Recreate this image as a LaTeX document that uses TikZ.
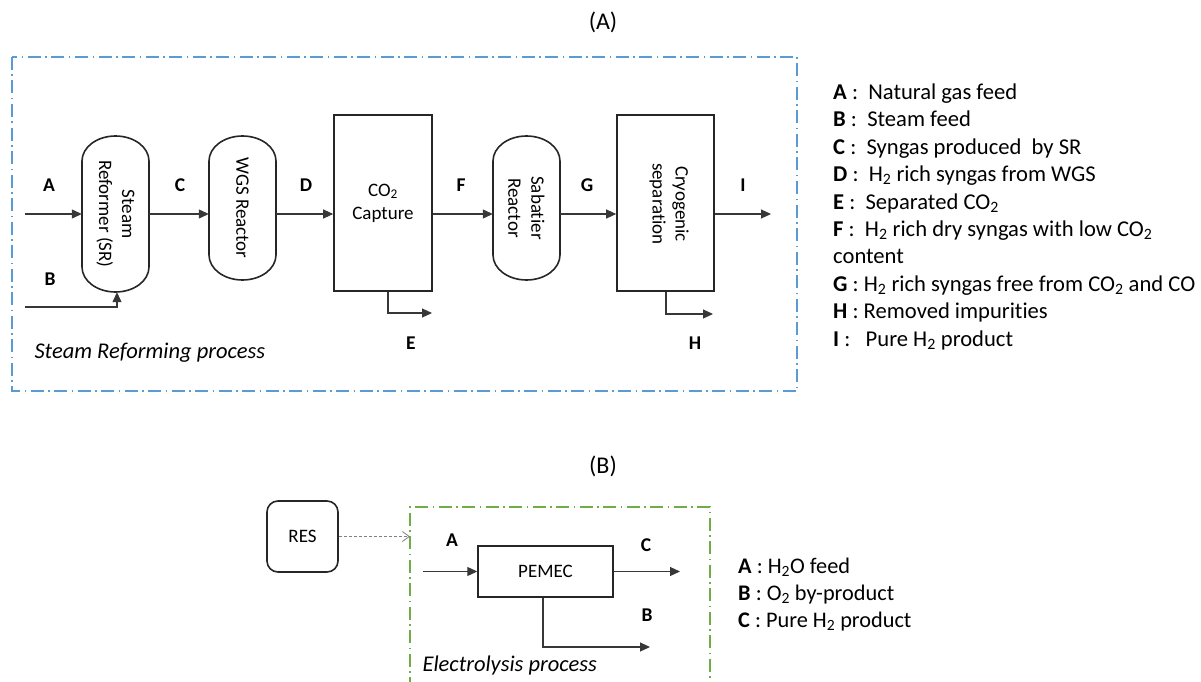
\documentclass[tikz,border=0pt]{standalone}
\usepackage{fontspec}
\setmainfont{Carlito}[Ligatures=CommonOff]
\usetikzlibrary{arrows.meta}
\definecolor{boxblue}{RGB}{91,155,213}
\definecolor{boxgreen}{RGB}{112,173,71}
\definecolor{linegray}{RGB}{55,55,55}
\newcommand\mycap[6]{% name, cx, cy, halfw, halfh, text
  \draw[unitline] ({#2-#4},{#3-#5+25}) arc[start angle=180,end angle=360,x radius=#4,y radius=25]
    -- ({#2+#4},{#3+#5-25}) arc[start angle=0,end angle=180,x radius=#4,y radius=25] -- cycle;
  \node[minimum width={2*#4}, minimum height={2*#5}, inner sep=0pt] (#1) at (#2,#3) {};
  \node[rotate=-90, align=center, font=\fontsize{19}{23}\selectfont] (#1txt) at (#2,#3) {#6};
}
\begin{document}
\begin{tikzpicture}[x=1pt,y=-1pt,
  unitline/.style={draw=black!85, line width=1.6pt},
  unitbox/.style={unitline, rectangle, inner sep=0pt, align=center, font=\fontsize{19}{23}\selectfont},
  flow/.style={draw=linegray, line width=1.1pt, -{Triangle[length=10pt,width=9pt]}},
  lbl/.style={font=\bfseries\fontsize{19.5}{23}\selectfont, text=black},
  legend/.style={anchor=base west, align=left, inner sep=0pt, text=black},
  frame/.style={line width=1.4pt, dash pattern=on 13pt off 4.5pt on 1.5pt off 4.5pt},
  title/.style={font=\fontsize{24}{28}\selectfont}
]
\useasboundingbox (0,0) rectangle (1201,682);

% ---------- (A) ----------
\node[title] (tA) at (603,22) {(A)};
\draw[frame, boxblue] (12,57) rectangle (797,391);

\coordinate (line) at (0,214);
\mycap{sr}{115.5}{214}{33.5}{78}{Steam\\Reformer (SR)}
\mycap{wgs}{242.5}{208}{33.5}{72}{WGS Reactor}
\mycap{sab}{526.5}{208}{33.5}{72}{Sabatier\\Reactor}
\node[unitbox, minimum width=98pt, minimum height=176pt] (co2) at (383,203) {CO\textsubscript{2}\\Capture};
\node[unitbox, minimum width=97pt, minimum height=176pt] (cryo) at (665.5,203) {};
\node[rotate=-90, align=center, font=\fontsize{19}{23}\selectfont] (cryotxt) at (669,204) {Cryogenic\\separation};

\coordinate (Astart) at (25,214);
\coordinate (Bstart) at (25,307);
\coordinate (Eend) at (432,313);
\coordinate (Hend) at (713,314);
\coordinate (Iend) at (771,214);

\draw[flow] (Astart) -- (sr.west);
\draw[flow] (Bstart) -| ([xshift=1.5pt]sr.south);
\draw[flow] (sr.east) -- (wgs.west |- line);
\draw[flow] (wgs.east |- line) -- (co2.west |- line);
\draw[flow] ([xshift=5pt]co2.south) |- (Eend);
\draw[flow] (co2.east |- line) -- (sab.west |- line);
\draw[flow] (sab.east |- line) -- (cryo.west |- line);
\draw[flow] ([xshift=0.5pt]cryo.south) |- (Hend);
\draw[flow] (cryo.east |- line) -- (Iend);

\node[lbl] (lA) at (49,185) {A};
\node[lbl] (lB) at (50,279) {B};
\node[lbl] (lC) at (180,185) {C};
\node[lbl] (lD) at (306,185) {D};
\node[lbl] (lE) at (411,343) {E};
\node[lbl] (lF) at (461,185) {F};
\node[lbl] (lG) at (587,185) {G};
\node[lbl] (lH) at (695,343) {H};
\node[lbl] (lI) at (743,185) {I};

\node[anchor=west, font=\itshape\fontsize{22.5}{26}\selectfont] (srp) at (31,353) {Steam Reforming process};

\node[legend, font=\fontsize{22.6}{27.4}\selectfont] (legA) at (833,346) {%
\textbf{A} :\ \ Natural gas feed\\
\textbf{B} :\ \ Steam feed\\
\textbf{C} :\ \ Syngas produced\ \ by SR\\
\textbf{D} :\ \ H\textsubscript{2} rich syngas from WGS\\
\textbf{E} :\ \ Separated CO\textsubscript{2}\\
\textbf{F} :\ \ H\textsubscript{2} rich dry syngas with low CO\textsubscript{2}\\
content\\
\textbf{G} : H\textsubscript{2} rich syngas free from CO\textsubscript{2} and CO\\
\textbf{H} : Removed impurities\\
\textbf{I} :\ \ \ Pure H\textsubscript{2} product};

% ---------- (B) ----------
\node[title] (tB) at (603,466) {(B)};
\draw[frame, boxgreen] (410,690) -- (410,507) -- (710,507) -- (710,690);

\node[draw=black!85, line width=1.6pt, rounded corners=11pt, minimum width=71pt, minimum height=71pt, inner sep=0pt, font=\fontsize{19}{23}\selectfont] (res) at (302.5,536.5) {RES};
\coordinate (resend) at (410,536.5);
\draw[draw=gray, line width=0.8pt, dash pattern=on 3pt off 2pt, -{Straight Barb[length=7pt,width=10pt]}] (res.east) -- (resend);

\node[draw=black!85, line width=1.4pt, minimum width=135pt, minimum height=51pt, inner sep=0pt, font=\fontsize{19}{23}\selectfont] (pem) at (545.5,571.5) {PEMEC};
\coordinate (pAstart) at (423,571.5);
\coordinate (pCend) at (680,571.5);
\coordinate (pBend) at (650,647);
\draw[flow] (pAstart) -- (pem.west);
\draw[flow] (pem.east) -- (pCend);
\draw[flow] ([xshift=-2.5pt]pem.south) |- (pBend);

\node[lbl] (pA) at (452,540) {A};
\node[lbl] (pC) at (646,545) {C};
\node[lbl] (pB) at (647,615) {B};

\node[anchor=west, font=\itshape\fontsize{22.5}{26}\selectfont] (elp) at (419,665) {Electrolysis process};

\node[legend, font=\fontsize{22.3}{27}\selectfont] (legB) at (738,627) {%
\textbf{A} : H\textsubscript{2}O feed\\
\textbf{B} : O\textsubscript{2} by-product\\
\textbf{C} : Pure H\textsubscript{2} product};
\end{tikzpicture}
\end{document}
